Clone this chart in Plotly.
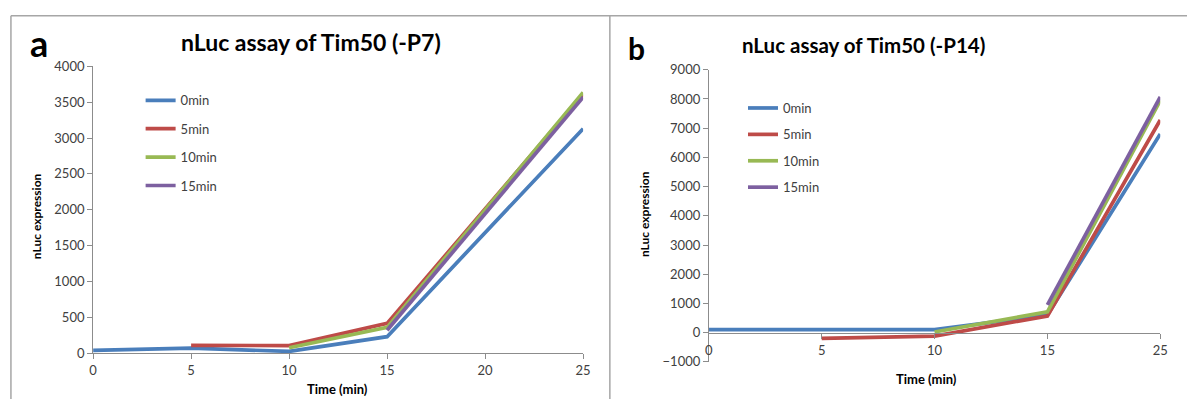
import plotly.graph_objects as go

# ---------------- data ----------------
time_left = [0, 5, 10, 15, 25]
left_0min = [40, 70, 25, 230, 3130]
left_5min = [None, 110, 105, 415, 3610]
left_10min = [None, None, 75, 360, 3635]
left_15min = [None, None, None, 320, 3570]

time_right = ["0", "5", "10", "15", "25"]
right_0min = [100, 100, 100, 600, 6800]
right_5min = [None, -200, -120, 570, 7280]
right_10min = [None, None, 20, 710, 7950]
right_15min = [None, None, None, 950, 8070]

series_names = ["0min", "5min", "10min", "15min"]
colors = ["#4A7EBB", "#BE4B48", "#98B954", "#7D60A0"]

W, H = 1195, 407


def px(x):
    return x / W


def py(y):
    return 1 - y / H


FONT = 'Lato, "Open Sans", sans-serif'
AXC = "#8C8C8C"
TXT = "#404040"

fig = go.Figure()

left_series = [left_0min, left_5min, left_10min, left_15min]
right_series = [right_0min, right_5min, right_10min, right_15min]

for i, (name, ys) in enumerate(zip(series_names, left_series)):
    fig.add_trace(go.Scatter(
        x=time_left, y=ys, mode="lines", name=name,
        line=dict(color=colors[i], width=3.7),
        xaxis="x", yaxis="y", legend="legend", legendgroup="L" + name,
    ))
for i, (name, ys) in enumerate(zip(series_names, right_series)):
    fig.add_trace(go.Scatter(
        x=time_right, y=ys, mode="lines", name=name,
        line=dict(color=colors[i], width=3.7),
        xaxis="x2", yaxis="y2", legend="legend2", legendgroup="R" + name,
    ))

axis_common = dict(
    showline=True, linecolor=AXC, linewidth=1, ticks="outside", ticklen=5,
    tickcolor=AXC, tickwidth=1, showgrid=False, zeroline=False,
    tickfont=dict(family=FONT, size=13, color=TXT),
)

FR = "#A6A6A6"
shapes = [
    dict(type="line", xref="paper", yref="paper", x0=px(7), x1=px(1195), y0=py(8), y1=py(8),
         line=dict(color=FR, width=1.5)),
    dict(type="line", xref="paper", yref="paper", x0=px(7), x1=px(7), y0=py(8), y1=py(407),
         line=dict(color=FR, width=1.5)),
    dict(type="line", xref="paper", yref="paper", x0=px(612), x1=px(612), y0=py(8), y1=py(407),
         line=dict(color=FR, width=1.5)),
]


def ann(text, x, y, size, bold=True, angle=0, color="black"):
    return dict(text=f"<b>{text}</b>" if bold else text, x=px(x), y=py(y),
                xref="paper", yref="paper", showarrow=False, textangle=angle,
                xanchor="center", yanchor="middle",
                font=dict(family=FONT, size=size, color=color))


annotations = [
    ann("a", 35, 36, 36),
    ann("b", 639, 42, 30),
    ann("nLuc assay of Tim50 (-P7)", 310, 35, 23),
    ann("nLuc assay of Tim50 (-P14)", 868, 38, 20.5),
    ann("nLuc expression", 33, 217, 12, angle=-90),
    ann("nLuc expression", 647, 215, 12, angle=-90),
    ann("Time (min)", 337, 397, 13),
    ann("Time (min)", 932, 386, 13),
]

fig.update_layout(
    width=W, height=H, autosize=False,
    margin=dict(l=0, r=0, t=0, b=0),
    paper_bgcolor="white", plot_bgcolor="white",
    showlegend=True,
    xaxis=dict(domain=[px(90), px(585)], range=[0, 25], dtick=5, anchor="y", **axis_common),
    yaxis=dict(domain=[py(359.3), py(60.7)], range=[0, 4000], dtick=500, anchor="x", **axis_common),
    xaxis2=dict(domain=[px(712), px(1168)], type="category", range=[0, 4], anchor="free",
                position=py(338.3), **axis_common),
    yaxis2=dict(domain=[py(368.3), py(64.3)], range=[-1000, 9000], dtick=1000, anchor="x2",
                **axis_common),
    legend=dict(x=px(138), y=py(80.5), xanchor="left", yanchor="top", bgcolor="rgba(0,0,0,0)",
                traceorder="grouped", tracegroupgap=8.5,
                font=dict(family=FONT, size=13, color=TXT)),
    legend2=dict(x=px(746.5), y=py(88.5), xanchor="left", yanchor="top", bgcolor="rgba(0,0,0,0)",
                 traceorder="grouped", tracegroupgap=6.5,
                 font=dict(family=FONT, size=13, color=TXT)),
    shapes=shapes,
    annotations=annotations,
)

fig.write_html("out.html")
